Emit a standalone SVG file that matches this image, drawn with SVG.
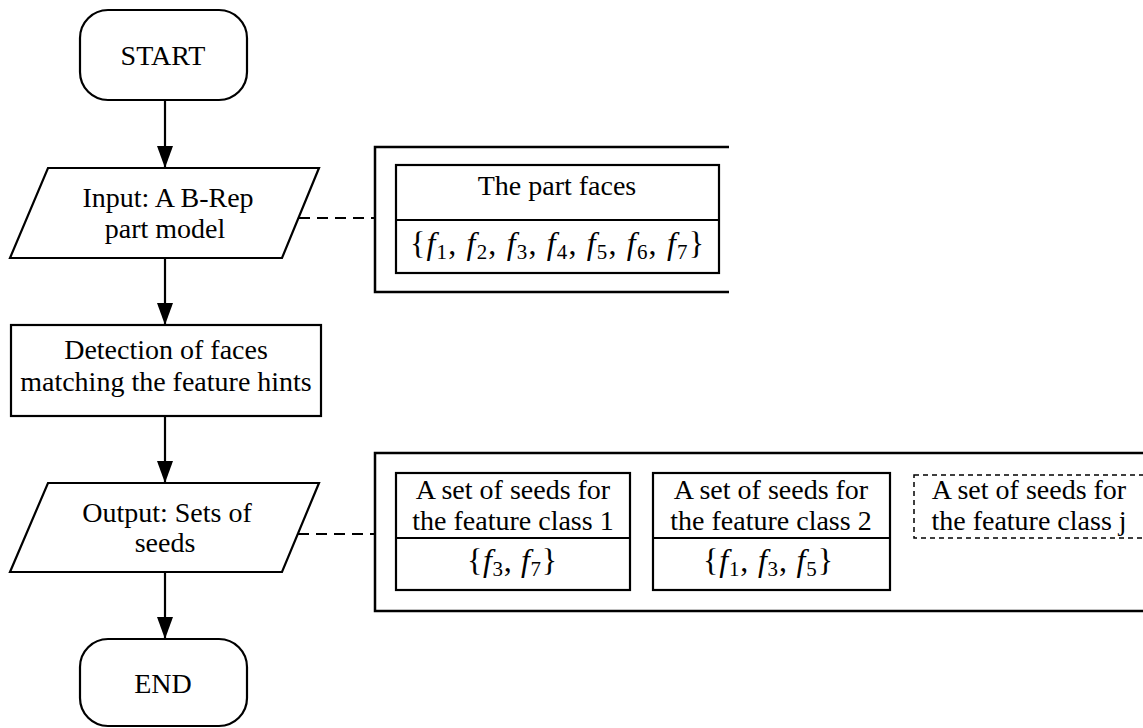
<svg xmlns="http://www.w3.org/2000/svg" width="1143" height="728" viewBox="0 0 1143 728">
<style>
.s{fill:#fff;stroke:#000;stroke-width:2.2}
.b{fill:none;stroke:#000;stroke-width:2.5}
.d{fill:none;stroke:#000;stroke-width:2.2;stroke-dasharray:11 7}
.dd{fill:none;stroke:#000;stroke-width:1.5;stroke-dasharray:5 4}
.f{fill:none;stroke:#000;stroke-width:2.2}
text{font-family:"Liberation Serif","Times New Roman",serif;font-size:28px;fill:#000;text-anchor:middle}
.m{font-size:32px}
.i{font-style:italic}
.sub{font-size:21px}
</style>
<defs>
<marker id="ah" markerUnits="userSpaceOnUse" viewBox="0 -8 22 16" refX="22" refY="0" markerWidth="22" markerHeight="16" orient="auto">
<path d="M0,-8 L22,0 L0,8 z" fill="#000"/>
</marker>
</defs>
<rect width="1143" height="728" fill="#fff"/>
<g id="connectors">
<line class="f" x1="165" y1="100" x2="165" y2="168" marker-end="url(#ah)"/>
<line class="f" x1="165" y1="258" x2="165" y2="325" marker-end="url(#ah)"/>
<line class="f" x1="165" y1="416" x2="165" y2="483" marker-end="url(#ah)"/>
<line class="f" x1="165" y1="572" x2="165" y2="639" marker-end="url(#ah)"/>
<line class="d" x1="299" y1="218" x2="374" y2="218"/>
<line class="d" x1="298" y1="534" x2="374" y2="534"/>
</g>
<g id="start">
<rect class="s" x="80" y="10" width="167" height="90" rx="28" ry="28"/>
<text x="163" y="65">START</text>
</g>
<g id="input">
<polygon class="s" points="48,168 319,168 282,258 10,258"/>
<text x="168" y="207">Input: A B-Rep</text>
<text x="165" y="238">part model</text>
</g>
<g id="detection">
<rect class="s" x="11" y="325" width="310" height="91"/>
<text x="166" y="359">Detection of faces</text>
<text x="166" y="391">matching the feature hints</text>
</g>
<g id="output">
<polygon class="s" points="48,483 319,483 282,572 10,572"/>
<text x="167" y="522">Output: Sets of</text>
<text x="165" y="552">seeds</text>
</g>
<g id="end">
<rect class="s" x="80" y="639" width="167" height="87" rx="28" ry="28"/>
<text x="163" y="693">END</text>
</g>
<g id="faces-panel">
<path class="b" d="M729,147 H375 V292 H729"/>
<rect class="s" x="396" y="165" width="323" height="108"/>
<line class="f" x1="396" y1="220" x2="719" y2="220"/>
<text x="557" y="195">The part faces</text>
<text class="m" x="557" y="254" textLength="294" lengthAdjust="spacing" xml:space="preserve">{<tspan class="i">f</tspan><tspan class="sub" dy="5">1</tspan><tspan dy="-5">, </tspan><tspan class="i">f</tspan><tspan class="sub" dy="5">2</tspan><tspan dy="-5">, </tspan><tspan class="i">f</tspan><tspan class="sub" dy="5">3</tspan><tspan dy="-5">, </tspan><tspan class="i">f</tspan><tspan class="sub" dy="5">4</tspan><tspan dy="-5">, </tspan><tspan class="i">f</tspan><tspan class="sub" dy="5">5</tspan><tspan dy="-5">, </tspan><tspan class="i">f</tspan><tspan class="sub" dy="5">6</tspan><tspan dy="-5">, </tspan><tspan class="i">f</tspan><tspan class="sub" dy="5">7</tspan><tspan dy="-5">}</tspan></text>
</g>
<g id="seeds-panel">
<path class="b" d="M1143,453 H375 V611 H1143"/>
</g>
<g id="seeds-class-1">
<rect class="s" x="396" y="473" width="234" height="117"/>
<line class="f" x1="396" y1="538" x2="630" y2="538"/>
<text x="513" y="499">A set of seeds for</text>
<text x="513" y="530">the feature class 1</text>
<text class="m" x="512" y="571" textLength="90" lengthAdjust="spacing" xml:space="preserve">{<tspan class="i">f</tspan><tspan class="sub" dy="5">3</tspan><tspan dy="-5">, </tspan><tspan class="i">f</tspan><tspan class="sub" dy="5">7</tspan><tspan dy="-5">}</tspan></text>
</g>
<g id="seeds-class-2">
<rect class="s" x="653" y="473" width="237" height="117"/>
<line class="f" x1="653" y1="538" x2="890" y2="538"/>
<text x="771" y="499">A set of seeds for</text>
<text x="771" y="530">the feature class 2</text>
<text class="m" x="768" y="571" textLength="130" lengthAdjust="spacing" xml:space="preserve">{<tspan class="i">f</tspan><tspan class="sub" dy="5">1</tspan><tspan dy="-5">, </tspan><tspan class="i">f</tspan><tspan class="sub" dy="5">3</tspan><tspan dy="-5">, </tspan><tspan class="i">f</tspan><tspan class="sub" dy="5">5</tspan><tspan dy="-5">}</tspan></text>
</g>
<g id="seeds-class-j">
<rect class="dd" x="914" y="475" width="240" height="63"/>
<text x="1029" y="499">A set of seeds for</text>
<text x="1029" y="530">the feature class j</text>
</g>
</svg>
